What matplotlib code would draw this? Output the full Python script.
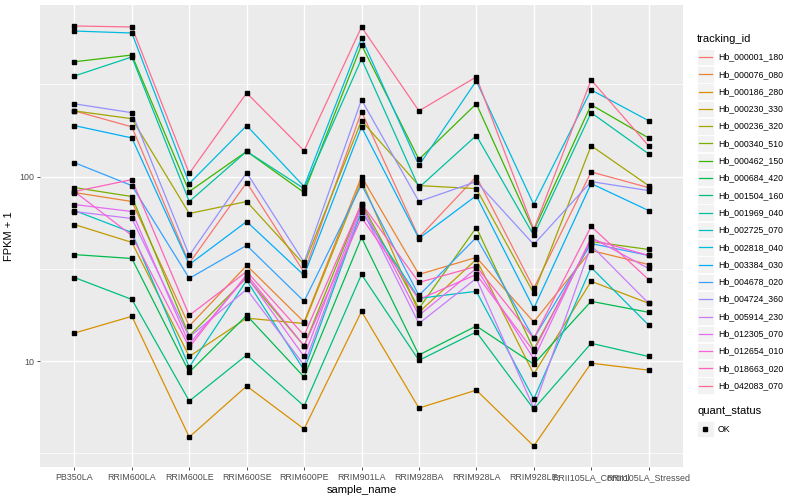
import matplotlib
matplotlib.use('Agg')
import matplotlib.pyplot as plt
from matplotlib.lines import Line2D
from matplotlib.patches import Rectangle
from matplotlib.ticker import FixedLocator, NullFormatter

plt.rcParams['font.family'] = ['Liberation Sans', 'DejaVu Sans']

# samples on the x axis
samples = ['PB350LA', 'RRIM600LA', 'RRIM600LE', 'RRIM600SE', 'RRIM600PE', 'RRIM901LA',
           'RRIM928BA', 'RRIM928LA', 'RRIM928LE', 'RRII105LA_Control', 'RRII105LA_Stressed']

# FPKM + 1 per gene
hb_000001_180 = [227, 186, 33.9, 92.9, 30.3, 225, 46.8, 100, 24.8, 106, 87.2]
hb_000076_080 = [82.0, 73.3, 15.5, 33.0, 16.3, 100, 29.5, 36.5, 16.3, 39.8, 33.4]
hb_000186_280 = [14.2, 17.5, 3.88, 7.33, 4.29, 18.6, 5.57, 6.97, 3.47, 9.75, 8.94]
hb_000230_330 = [55.0, 44.0, 10.6, 17.1, 16.0, 95.1, 18.4, 35.6, 8.51, 27.1, 20.6]
hb_000236_320 = [227, 206, 63.1, 73.3, 33.4, 201, 89.4, 86.1, 23.3, 147, 89.4]
hb_000340_510 = [87.2, 78.0, 13.7, 28.4, 12.1, 71.5, 19.3, 53.0, 11.6, 44.5, 40.3]
hb_000462_150 = [419, 456, 83.0, 137, 82.0, 517, 124, 248, 51.1, 245, 162]
hb_000684_420 = [37.8, 36.0, 8.72, 17.7, 8.20, 46.8, 10.8, 15.5, 9.64, 21.1, 18.4]
hb_001504_160 = [28.4, 21.6, 6.08, 10.8, 5.71, 29.5, 10.1, 14.4, 5.50, 12.5, 10.6]
hb_001969_040 = [351, 445, 73.3, 137, 86.1, 434, 87.2, 167, 48.0, 222, 133]
hb_002725_070 = [65.5, 49.8, 9.29, 27.4, 8.94, 64.7, 21.9, 23.9, 6.23, 32.2, 15.7]
hb_002818_040 = [615, 600, 91.7, 189, 88.3, 564, 115, 330, 70.6, 295, 201]
hb_003384_030 = [189, 162, 33.4, 57.1, 29.2, 186, 46.2, 78.9, 19.3, 91.7, 65.5]
hb_004678_020 = [119, 89.4, 28.1, 42.4, 21.1, 90.5, 22.7, 46.8, 13.3, 43.4, 37.4]
hb_004724_360 = [248, 222, 37.4, 105, 34.3, 261, 73.3, 94.0, 42.9, 94.0, 84.0]
hb_005914_230 = [64.7, 59.3, 13.5, 24.5, 9.52, 67.1, 16.0, 28.1, 5.57, 42.4, 20.6]
hb_012305_070 = [70.6, 64.7, 12.4, 28.8, 10.6, 69.7, 17.7, 31.8, 10.3, 46.8, 31.8]
hb_012654_010 = [83.0, 48.0, 11.9, 29.5, 12.1, 60.0, 21.6, 29.5, 11.3, 45.7, 37.4]
hb_018663_020 = [83.0, 96.3, 17.7, 30.6, 13.8, 71.5, 26.7, 32.6, 13.3, 53.7, 27.7]
hb_042083_070 = [655, 647, 104, 284, 138, 647, 227, 347, 51.7, 334, 147]

tracking_ids = ['Hb_000001_180', 'Hb_000076_080', 'Hb_000186_280', 'Hb_000230_330',
                'Hb_000236_320', 'Hb_000340_510', 'Hb_000462_150', 'Hb_000684_420',
                'Hb_001504_160', 'Hb_001969_040', 'Hb_002725_070', 'Hb_002818_040',
                'Hb_003384_030', 'Hb_004678_020', 'Hb_004724_360', 'Hb_005914_230',
                'Hb_012305_070', 'Hb_012654_010', 'Hb_018663_020', 'Hb_042083_070']
series = [hb_000001_180, hb_000076_080, hb_000186_280, hb_000230_330, hb_000236_320,
          hb_000340_510, hb_000462_150, hb_000684_420, hb_001504_160, hb_001969_040,
          hb_002725_070, hb_002818_040, hb_003384_030, hb_004678_020, hb_004724_360,
          hb_005914_230, hb_012305_070, hb_012654_010, hb_018663_020, hb_042083_070]

# ggplot default hue palette, 20 levels
colors = ['#F8766D', '#EA8331', '#D89000', '#C09B00', '#A3A500', '#7CAE00', '#39B600',
          '#00BB4E', '#00BF7D', '#00C1A3', '#00BFC4', '#00BAE0', '#00B0F6', '#35A2FF',
          '#9590FF', '#C77CFF', '#E76BF3', '#FA62DB', '#FF62BC', '#FF6C90']

W, H = 800, 500
fig = plt.figure(figsize=(8, 5), dpi=100, facecolor='white')
ax = fig.add_axes([40 / W, 1 - 467 / H, 643 / W, 462 / H])
ax.set_facecolor('#EBEBEB')

x = list(range(1, len(samples) + 1))
for vals, c in zip(series, colors):
    ax.plot(x, vals, color=c, lw=0.9, zorder=3)
for vals in series:
    ax.plot(x, vals, ls='none', marker='s', ms=2.6, color='black', zorder=4)

ax.set_yscale('log')
ax.set_ylim(2.67, 851)
ax.set_xlim(0.4, len(samples) + 0.6)
ax.yaxis.set_major_locator(FixedLocator([10, 100]))
ax.yaxis.set_minor_locator(FixedLocator([10 ** 0.5, 10 ** 1.5, 10 ** 2.5]))
ax.yaxis.set_minor_formatter(NullFormatter())
ax.set_yticklabels(['10', '100'])
ax.set_xticks(x)
ax.set_xticklabels(samples)

# ggplot grey theme
ax.grid(True, which='major', color='white', lw=1.0, zorder=0)
ax.grid(True, which='minor', axis='y', color='white', lw=0.5, zorder=0)
ax.set_axisbelow(True)
for s in ax.spines.values():
    s.set_visible(False)
ax.tick_params(which='major', length=2.2, width=0.6, color='#333333',
               labelcolor='#4D4D4D', labelsize=6.4, pad=2)
ax.tick_params(which='minor', length=0)

ax.set_xlabel('sample_name', fontsize=8, color='black', labelpad=2)
ax.set_ylabel('FPKM + 1', fontsize=8, color='black', labelpad=4)

# legends drawn by hand in pixel positions
def fx(px):
    return px / W

def fy(py):
    return 1 - py / H

fig.text(fx(697), fy(39), 'tracking_id', fontsize=8, va='center', ha='left')
step = 17.3
for i, (tid, c) in enumerate(zip(tracking_ids, colors)):
    cy = 57 + i * step
    fig.add_artist(Rectangle((fx(697), fy(cy + 8.3)), 16.6 / W, 16.6 / H,
                             transform=fig.transFigure, facecolor='#F2F2F2',
                             edgecolor='white', lw=0.6))
    fig.add_artist(Line2D([fx(699), fx(712)], [fy(cy), fy(cy)],
                          transform=fig.transFigure, color=c, lw=0.9))
    fig.text(fx(718), fy(cy), tid, fontsize=6.3, va='center', ha='left')

fig.text(fx(697), fy(411), 'quant_status', fontsize=8, va='center', ha='left')
cy = 429
fig.add_artist(Rectangle((fx(697), fy(cy + 8.3)), 16.6 / W, 16.6 / H,
                         transform=fig.transFigure, facecolor='#F2F2F2',
                         edgecolor='white', lw=0.6))
fig.add_artist(Line2D([fx(705.3)], [fy(cy)], transform=fig.transFigure,
                      ls='none', marker='s', ms=2.6, color='black'))
fig.text(fx(718), fy(cy), 'OK', fontsize=6.3, va='center', ha='left')

fig.savefig('out.png', dpi=100)
